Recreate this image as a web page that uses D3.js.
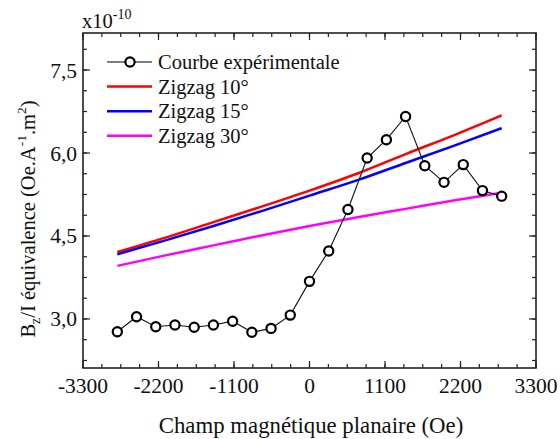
<!DOCTYPE html>
<html><head><meta charset="utf-8">
<script src="https://cdn.jsdelivr.net/npm/d3@7"></script>
<style>svg text, svg tspan { font-family: "Liberation Serif", "Times New Roman", Times, serif !important; }</style>
</head><body style="margin:0;background:#fff">
<svg id="c" width="560" height="439"></svg>
<script>
const fields = [-2800,-2520,-2240,-1960,-1680,-1400,-1120,-840,-560,-280,0,280,560,840,1120,1400,1680,1960,2240,2520,2800];
const experimental = [2.77,3.04,2.86,2.89,2.85,2.89,2.96,2.76,2.83,3.07,3.68,4.23,4.98,5.91,6.24,6.66,5.77,5.47,5.79,5.32,5.22];
const modelFields = [-2800,-2100,-1400,-700,0,700,1400,2100,2800];
const zigzag10 = [4.21,4.47,4.75,5.03,5.32,5.63,5.98,6.32,6.68];
const zigzag15 = [4.17,4.42,4.68,4.95,5.23,5.51,5.82,6.13,6.45];
const zigzag30 = [3.96,4.15,4.33,4.51,4.68,4.84,4.99,5.14,5.28];
const xTicks = [-3300,-2200,-1100,0,1100,2200,3300];
const yTicks = [3.0,4.5,6.0,7.5];
const legendLabels = ["Courbe expérimentale","Zigzag 10°","Zigzag 15°","Zigzag 30°"];
const colors = ["#000000","#ff0000","#0000ff","#ff00ff"];

const FF="Liberation Serif";
const L=83,R=536,T=33,B=368;
const svg=d3.select("#c");
const x=d3.scaleLinear().domain([-3300,3300]).range([L,R]);
const y=d3.scaleLinear().domain([2.114,8.169]).range([B,T]);

function txt(sel){ return sel.attr("font-family",FF).style("font-family",FF).attr("fill","#111"); }

const xMinor=d3.range(-3300,3300.1,275);
const yMinor=d3.range(2.25,8.1,0.375);
function ticks(g,vals,isX,len,side){
  g.selectAll("line").data(vals).join("line")
   .attr("x1",d=>isX?x(d):(side? R: L)).attr("x2",d=>isX?x(d):(side? R-len: L+len))
   .attr("y1",d=>isX?(side? T: B):y(d)).attr("y2",d=>isX?(side? T+len: B-len):y(d))
   .attr("stroke","#222").attr("stroke-width",1.2);
}
const ax=svg.append("g");
ticks(ax.append("g"),xMinor,true,4,false);
ticks(ax.append("g"),xMinor,true,4,true);
ticks(ax.append("g"),yMinor,false,4,false);
ticks(ax.append("g"),yMinor,false,4,true);
ticks(ax.append("g"),xTicks,true,7,false);
ticks(ax.append("g"),xTicks,true,7,true);
ticks(ax.append("g"),yTicks,false,7,false);
ticks(ax.append("g"),yTicks,false,7,true);

[zigzag10,zigzag15,zigzag30].forEach((s,k)=>{
  svg.append("path").attr("d",d3.line().curve(d3.curveMonotoneX).x((d,i)=>x(modelFields[i])).y(d=>y(d))(s))
   .attr("fill","none").attr("stroke",colors[k+1]).attr("stroke-width",2.5);
});
svg.append("path").attr("d",d3.line().x((d,i)=>x(fields[i])).y(d=>y(d))(experimental))
  .attr("fill","none").attr("stroke","#111").attr("stroke-width",1.1);
svg.append("g").selectAll("circle").data(experimental).join("circle")
  .attr("cx",(d,i)=>x(fields[i])).attr("cy",d=>y(d)).attr("r",4.6)
  .attr("fill","#fff").attr("stroke","#000").attr("stroke-width",2.2);

svg.append("rect").attr("x",L).attr("y",T).attr("width",R-L).attr("height",B-T)
  .attr("fill","none").attr("stroke","#222").attr("stroke-width",1.6);

txt(svg.append("g").selectAll("text").data(xTicks).join("text")
  .attr("x",d=>x(d)).attr("y",393).attr("text-anchor","middle").attr("font-size",21.5))
  .text(d=>d);
txt(svg.append("g").selectAll("text").data(yTicks).join("text")
  .attr("x",77).attr("y",d=>y(d)+7.5).attr("text-anchor","end").attr("font-size",21.5))
  .text(d=>d.toFixed(1).replace(".",","));

const m=txt(svg.append("text").attr("x",82).attr("y",28).attr("font-size",20.5));
m.append("tspan").text("x10");
m.append("tspan").attr("dy",-9).attr("font-size",14).text("-10");

txt(svg.append("text").attr("x",311).attr("y",433).attr("text-anchor","middle").attr("font-size",22.8))
  .text("Champ magnétique planaire (Oe)");
const yt=txt(svg.append("text").attr("transform","translate(35,219) rotate(-90)").attr("text-anchor","middle").attr("font-size",20.5));
yt.append("tspan").text("B");
yt.append("tspan").attr("dy",5).attr("font-size",14).text("z");
yt.append("tspan").attr("dy",-5).text("/I équivalence (Oe.A");
yt.append("tspan").attr("dy",-9).attr("font-size",13.5).text("-1");
yt.append("tspan").attr("dy",9).text(".m");
yt.append("tspan").attr("dy",-9).attr("font-size",13.5).text("2");
yt.append("tspan").attr("dy",9).text(")");

const lg=svg.append("g");
legendLabels.forEach((lab,i)=>{
  const yy=62+i*24.6;
  lg.append("line").attr("x1",107).attr("x2",152).attr("y1",yy).attr("y2",yy)
    .attr("stroke",colors[i]).attr("stroke-width",i===0?1.1:2.5);
  if(i===0) lg.append("circle").attr("cx",130).attr("cy",yy).attr("r",4.6).attr("fill","#fff").attr("stroke","#000").attr("stroke-width",2.2);
  txt(lg.append("text").attr("x",158).attr("y",yy+7).attr("font-size",20.5)).text(lab);
});
</script>
</body></html>
